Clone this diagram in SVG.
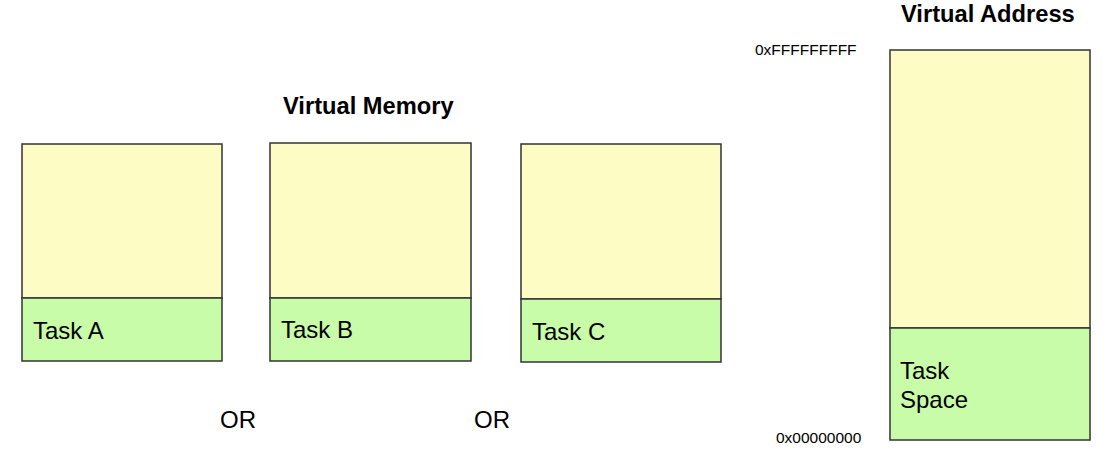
<svg xmlns="http://www.w3.org/2000/svg" width="1115" height="450" viewBox="0 0 1115 450">
<style>
.bg{fill:#ffffff}
.top{fill:#fcfcc4;stroke:#333333;stroke-width:1.5}
.bot{fill:#c9fca8;stroke:#333333;stroke-width:1.5}
.lbl{font-family:"Liberation Sans",Arial,sans-serif;font-size:24px;fill:#000}
.title{font-family:"Liberation Sans",Arial,sans-serif;font-size:23.7px;font-weight:bold;fill:#000}
.addr{font-family:"Liberation Sans",Arial,sans-serif;font-size:15.5px;fill:#000}
</style>
<rect class="bg" x="0" y="0" width="1115" height="450"/>
<text class="title" x="283" y="114">Virtual Memory</text>
<text class="title" x="901" y="22">Virtual Address</text>
<g id="taskA">
<rect class="top" x="22" y="144" width="200" height="154"/>
<rect class="bot" x="22" y="298" width="200" height="63"/>
<text class="lbl" x="33" y="339">Task A</text>
</g>
<g id="taskB">
<rect class="top" x="270" y="143" width="201" height="155"/>
<rect class="bot" x="270" y="298" width="201" height="63"/>
<text class="lbl" x="281" y="338">Task B</text>
</g>
<g id="taskC">
<rect class="top" x="521" y="144" width="200" height="155"/>
<rect class="bot" x="521" y="299" width="200" height="63"/>
<text class="lbl" x="532" y="340">Task C</text>
</g>
<g id="virtualAddress">
<rect class="top" x="890" y="50" width="200" height="278"/>
<rect class="bot" x="890" y="328" width="200" height="112"/>
<text class="lbl" x="900" y="379">Task</text>
<text class="lbl" x="900" y="408">Space</text>
</g>
<text class="addr" x="755" y="55">0xFFFFFFFFF</text>
<text class="addr" x="776" y="443">0x00000000</text>
<text class="lbl" x="220" y="428">OR</text>
<text class="lbl" x="474" y="428">OR</text>
<g id="connectors"></g>
</svg>
